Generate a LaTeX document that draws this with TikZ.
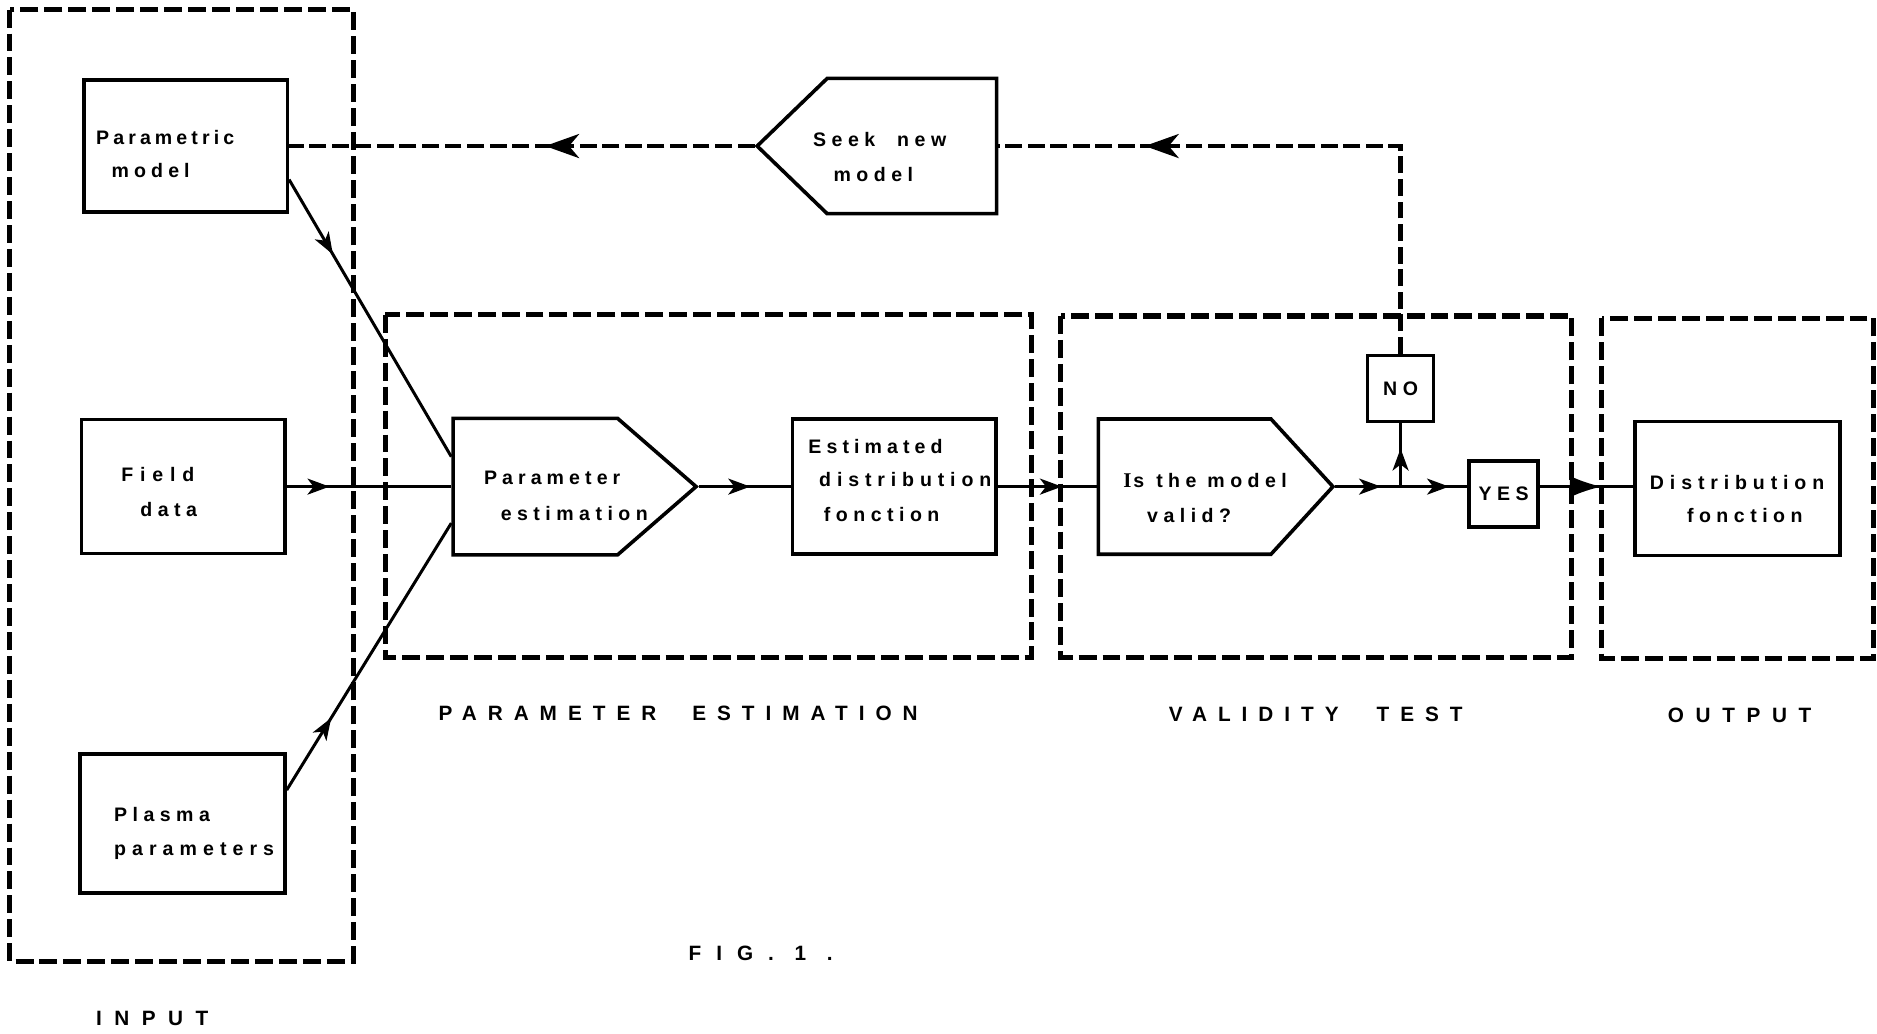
\documentclass[tikz,border=0pt]{standalone}
\usepackage{fontspec}
\newfontfamily\boxfont[LetterSpace=28]{Liberation Sans Bold}
\newfontfamily\titlefont[LetterSpace=53]{Liberation Sans Bold}
\newfontfamily\serifletter{Liberation Serif Bold}
\usetikzlibrary{shapes.symbols,arrows.meta,decorations.markings,calc}

\tikzset{
  smalltip/.tip={Stealth[length=11pt,width=8pt,inset=3pt]},
  fbtip/.tip={Stealth[length=17pt,width=12pt,inset=5pt]},
  bigtip/.tip={Latex[length=16pt,width=11pt]},
  box/.style={draw, line width=1.8pt, inner sep=0pt},
  group/.style={draw, line width=2.6pt, dash pattern=on 9pt off 3pt},
  conn/.style={line width=1.5pt},
  fbline/.style={line width=2.4pt, dash pattern=on 8.5pt off 2.8pt},
  txt/.style={inner sep=0pt, anchor=base west, font=\boxfont\fontsize{9.8}{12}\selectfont},
  ttl/.style={inner sep=0pt, anchor=base west, font=\titlefont\fontsize{10.4}{12}\selectfont},
  markat/.style 2 args={postaction={decorate},
    decoration={markings, mark=at position #1 with {\arrow{#2}}}},
}

\begin{document}
\begin{tikzpicture}[x=0.6pt, y=-0.6pt, line join=miter]
\useasboundingbox (0,0) rectangle (1568,863);

% group frames
\draw[group] (8,8) rectangle (295,803);
\draw[group] (322,263) rectangle (862,549);
\draw[group] (886,264) rectangle (1313,549);
\draw[group] (1338,266) rectangle (1565,550);

% blocks
\node[box, minimum width=102pt, minimum height=66pt] (pm) at (155,122) {};
\node[box, minimum width=102pt, minimum height=67.2pt] (fd) at (153,406.5) {};
\node[box, minimum width=102.6pt, minimum height=69.6pt] (pp) at (152.5,688) {};
\node[box, shape=signal, signal to=east, signal pointer angle=82, anchor=west,
      minimum width=121.8pt, minimum height=68.4pt] (pe) at (377,406.5) {};
\node[box, minimum width=102pt, minimum height=67.8pt] (edf) at (747,406.5) {};
\node[box, shape=signal, signal to=east, signal pointer angle=95, anchor=west,
      minimum width=117.6pt, minimum height=67.8pt] (vt) at (916,406.5) {};
\node[box, minimum width=33pt, minimum height=33pt,
      font=\boxfont\fontsize{9.8}{12}\selectfont] (no) at (1170,324.5) {NO};
\node[box, minimum width=34.8pt, minimum height=33pt,
      font=\boxfont\fontsize{9.8}{12}\selectfont] (yes) at (1256,412.5) {YES};
\node[box, minimum width=102.6pt, minimum height=67.2pt] (dfn) at (1451.5,408) {};
\node[box, shape=signal, signal to=west, signal pointer angle=88, anchor=east,
      minimum width=120pt, minimum height=67.8pt] (seek) at (834,122) {};

% block texts
\node[txt] (pm1) at (80,120.5) {\addfontfeature{LetterSpace=21}Parametric};
\node[txt] (pm2) at (93,148.5) {\addfontfeature{LetterSpace=26}model};
\node[txt] (fd1) at (101,402.5) {\addfontfeature{LetterSpace=35}Field};
\node[txt] (fd2) at (117,431.5) {data};
\node[txt] (pp1) at (95,686.5) {Plasma};
\node[txt] (pp2) at (95,714.5) {\addfontfeature{LetterSpace=31}parameters};
\node[txt] (pe1) at (404,404.5) {\addfontfeature{LetterSpace=26}Parameter};
\node[txt] (pe2) at (418,434.5) {estimation};
\node[txt] (edf1) at (675,378.5) {\addfontfeature{LetterSpace=26}Estimated};
\node[txt] (edf2) at (684,406.5) {\addfontfeature{LetterSpace=30}distribution};
\node[txt] (edf3) at (688,435.5) {fonction};
\node[txt] (vt1) at (938,407.5) {{\serifletter\fontsize{10.5}{12}\selectfont I}\hspace{1pt}s\hspace{6pt}the model};
\node[txt] (vt2) at (958,436.5) {valid?};
\node[txt] (dfn1) at (1378,408.5) {\addfontfeature{LetterSpace=30}Distribution};
\node[txt] (dfn2) at (1409,436.5) {fonction};
\node[txt] (seek1) at (679,122.5) {Seek\hspace{11pt}new};
\node[txt] (seek2) at (696,151.5) {model};

% section titles
\node[ttl] (tin) at (80,856.75) {\addfontfeature{LetterSpace=60}INPUT};
\node[ttl] (tpe) at (366,601.75) {PARAMETER\hspace{18pt}ESTIMATION};
\node[ttl] (tvt) at (976,602.75) {VALIDITY\hspace{19pt}TEST};
\node[ttl] (tout) at (1393,603.75) {\addfontfeature{LetterSpace=56}OUTPUT};
\node[ttl] (tfig) at (575,802.75) {\addfontfeature{LetterSpace=72}FIG. 1 .};

% connectors
\coordinate (j) at (1170,406.5);
\draw[conn, markat={0.27}{smalltip}] ($(pm.east)+(0,28)$) -- ($(pe.west)+(0,-25)$);
\draw[conn, markat={0.27}{smalltip}] ($(pp.east)+(0,-28)$) -- ($(pe.west)+(0,30.5)$);
\draw[conn, markat={0.26}{smalltip}] (fd.east) -- (pe.west);
\draw[conn, markat={0.56}{smalltip}] (pe.east) -- (edf.west);
\draw[conn, markat={0.65}{smalltip}] (edf.east) -- (vt.west);
\draw[conn, markat={0.7}{smalltip}] (vt.east) -- (j);
\draw[conn, markat={0.73}{smalltip}] (j) -- (j -| yes.west);
\draw[conn, markat={0.6}{smalltip}] (j) -- (no.south);
\draw[conn, markat={0.66}{bigtip}] (j -| yes.east) -- (j -| dfn.west);

% feedback loop
\draw[fbline, markat={0.76}{fbtip}] (no.north) -- (no.north |- seek.east) -- (seek.east);
\draw[fbline, markat={0.45}{fbtip}] (seek.west) -- (pm.east);
\end{tikzpicture}
\end{document}
